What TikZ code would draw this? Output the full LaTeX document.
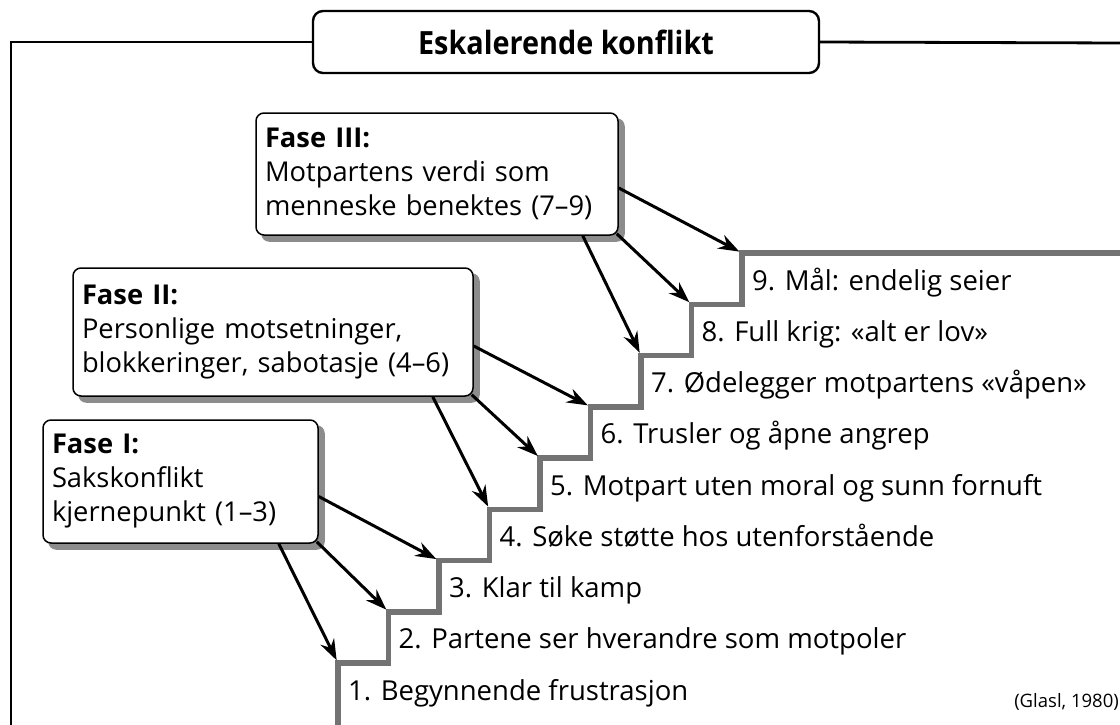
\documentclass[tikz,border=0pt]{standalone}
\usepackage{fontspec}
\setmainfont{Open Sans}
\usetikzlibrary{arrows.meta,backgrounds}
\begin{document}
\begin{tikzpicture}[x=1pt,y=-1pt,
  frameline/.style={line width=2.8pt,black},
  stair/.style={line width=5.5pt,black!55,line join=miter},
  phase/.style={draw=black,line width=1.5pt,rounded corners=8pt,fill=white,
     align=left,inner xsep=9pt,inner ysep=4pt,
     font=\fontsize{27.3}{34}\selectfont},
  shadowbox/.style={fill=black!45,rounded corners=8pt},
  titlebox/.style={draw=black,line width=2.4pt,rounded corners=10pt,fill=white,
     minimum width=506pt,minimum height=62pt,font=\fontsize{32}{34}\selectfont\bfseries},
  steplabel/.style={anchor=base west,inner sep=0pt,font=\fontsize{27.5}{30}\selectfont},
  arr/.style={line width=3pt,-{Stealth[length=21pt,width=15pt,inset=7pt]},shorten >=3pt}]
\useasboundingbox (0,0) rectangle (1120,724);
% stairs
\foreach \k in {1,...,9} {
  \coordinate (s\k) at ({338+50.5*(\k-1)},{663-51.25*(\k-1)});
}
\coordinate (s0) at (338,728);
\coordinate (send) at (1124,253);
\draw[stair] (s0) -- (s1) -| (s2) -| (s3) -| (s4) -| (s5) -| (s6) -| (s7) -| (s8) -| (s9) -- (send);
% step labels
\node[steplabel] (l1) at (348,700) {1. Begynnende frustrasjon};
\node[steplabel] (l2) at (398.5,648.75) {2. Partene ser hverandre som motpoler};
\node[steplabel] (l3) at (449,597.5) {3. Klar til kamp};
\node[steplabel] (l4) at (499.5,546.25) {4. Søke støtte hos utenforstående};
\node[steplabel] (l5) at (550,495) {5. Motpart uten moral og sunn fornuft};
\node[steplabel] (l6) at (600.5,443.75) {6. Trusler og åpne angrep};
\node[steplabel] (l7) at (651,392.5) {7. Ødelegger motpartens «våpen»};
\node[steplabel] (l8) at (701.5,341.25) {8. Full krig: «alt er lov»};
\node[steplabel] (l9) at (752,290) {9. Mål: endelig seier};
% frame
\node[titlebox] (title) at (566,42) {\scalebox{0.9}[1]{Eskalerende konflikt}};
\coordinate (fl) at (11,728);
\coordinate (fr) at (1124,43);
\draw[frameline] (fl) |- (title.west);
\draw[frameline] (title.east) -- (fr);
% phase boxes
\node[phase,minimum width=362pt,minimum height=122pt,text width=344pt] (f3) at (437,174)
  {\textbf{Fase III:}\\Motpartens verdi som\\menneske benektes (7–9)};
\node[phase,minimum width=400pt,minimum height=128pt,text width=382pt] (f2) at (273,332)
  {\textbf{Fase II:}\\Personlige motsetninger,\\blokkeringer, sabotasje (4–6)};
\node[phase,minimum width=275pt,minimum height=123pt,text width=257pt] (f1) at (180.5,481.5)
  {\textbf{Fase I:}\\Sakskonflikt\\kjernepunkt (1–3)};
\begin{scope}[on background layer]
  \foreach \b in {f1,f2,f3} {
    \fill[shadowbox] ([shift={(6pt,-6pt)}]\b.south west) rectangle ([shift={(6pt,-6pt)}]\b.north east);
  }
\end{scope}
% arrows
\draw[arr] ([yshift=-14pt]f3.east) -- (s9);
\draw[arr] ([xshift=-2pt,yshift=2pt]f3.south east) -- (s8);
\draw[arr] ([xshift=-36pt]f3.south east) -- (s7);
\draw[arr] ([yshift=-14pt]f2.east) -- (s6);
\draw[arr] ([xshift=-2pt,yshift=2pt]f2.south east) -- (s5);
\draw[arr] ([xshift=-41pt]f2.south east) -- (s4);
\draw[arr] ([yshift=-15pt]f1.east) -- (s3);
\draw[arr] ([xshift=-2pt,yshift=2pt]f1.south east) -- (s2);
\draw[arr] ([xshift=-40pt]f1.south east) -- (s1);
% source
\node[anchor=base east,inner sep=0pt,font=\fontsize{18.5}{20}\selectfont] (src) at (1119,707) {(Glasl, 1980)};
\end{tikzpicture}
\end{document}
